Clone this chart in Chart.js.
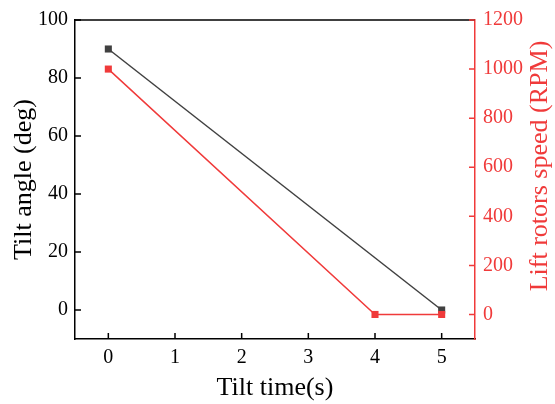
<!DOCTYPE html>
<html>
<head>
<meta charset="utf-8">
<script src="https://cdn.jsdelivr.net/npm/chart.js@4/dist/chart.umd.min.js"></script>
<style>
  html, body { margin: 0; padding: 0; background: #fff; }
  #wrap { width: 555px; height: 404px; }
</style>
</head>
<body>
<div id="wrap"><canvas id="tilt-chart"></canvas></div>
<script>
var tiltTimeAngle = [0, 5];
var tiltAngle = [90, 0];
var tiltTimeSpeed = [0, 4, 5];
var liftSpeed = [1000, 0, 0];
var xTicks = [0, 1, 2, 3, 4, 5];
var angleTicks = [0, 20, 40, 60, 80, 100];
var speedTicks = [0, 200, 400, 600, 800, 1000, 1200];
var rightTitle = "Lift rotors speed (RPM)";

var darkColor = "#404040";
var redColor = "#f03a3a";
var serif = "'Liberation Serif', 'Times New Roman', serif";

function pairs(xs, ys) {
    return xs.map(function (x, i) { return { x: x, y: ys[i] }; });
}

function keepTicks(list) {
    return function (scale) {
        scale.ticks = list.map(function (v) { return { value: v }; });
    };
}

function plain(v) { return String(v); }

// ticks pointing into the plot, the top frame line, and the right title read bottom-up
var frame = {
    id: "frame",
    afterDraw: function (chart) {
        var ctx = chart.ctx;
        var area = chart.chartArea;
        var len = 6;
        ctx.save();
        ctx.lineWidth = 1.5;
        ctx.strokeStyle = "#000";
        ctx.beginPath();
        ctx.moveTo(area.left, area.top);
        ctx.lineTo(area.right, area.top);
        ctx.stroke();
        ["x", "yL", "yR"].forEach(function (id) {
            var s = chart.scales[id];
            ctx.strokeStyle = id === "yR" ? redColor : "#000";
            ctx.beginPath();
            s.ticks.forEach(function (t) {
                var p = s.getPixelForValue(t.value);
                if (id === "x") {
                    ctx.moveTo(p, area.bottom);
                    ctx.lineTo(p, area.bottom - len);
                } else if (id === "yL") {
                    ctx.moveTo(area.left, p);
                    ctx.lineTo(area.left + len, p);
                } else {
                    ctx.moveTo(area.right, p);
                    ctx.lineTo(area.right - len, p);
                }
            });
            ctx.stroke();
        });
        ctx.translate(540, 166);
        ctx.rotate(-Math.PI / 2);
        ctx.fillStyle = redColor;
        ctx.font = "26px " + serif;
        ctx.textAlign = "center";
        ctx.textBaseline = "middle";
        ctx.fillText(rightTitle, 0, 0);
        ctx.restore();
    }
};

new Chart("tilt-chart", {
    type: "line",
    data: {
        datasets: [
            {
                label: "Tilt angle",
                data: pairs(tiltTimeAngle, tiltAngle),
                yAxisID: "yL",
                borderColor: darkColor,
                backgroundColor: darkColor,
                borderWidth: 1.5,
                pointStyle: "rect",
                pointRadius: 5,
                pointBorderWidth: 0,
                order: 2
            },
            {
                label: "Lift rotors speed",
                data: pairs(tiltTimeSpeed, liftSpeed),
                yAxisID: "yR",
                borderColor: redColor,
                backgroundColor: redColor,
                borderWidth: 1.5,
                pointStyle: "rect",
                pointRadius: 5,
                pointBorderWidth: 0,
                order: 1
            }
        ]
    },
    options: {
        responsive: true,
        maintainAspectRatio: false,
        animation: false,
        layout: { padding: { top: 17, left: 0, right: 0, bottom: 0 } },
        plugins: { legend: { display: false }, tooltip: { enabled: false } },
        scales: {
            x: {
                type: "linear",
                min: -0.5,
                max: 5.5,
                afterBuildTicks: keepTicks(xTicks),
                afterFit: function (s) { s.height = 65; },
                grid: { drawOnChartArea: false, drawTicks: false },
                border: { color: "#000", width: 1.5 },
                ticks: { color: "#000", padding: 7, callback: plain, font: { family: serif, size: 20 } },
                title: {
                    display: true,
                    text: "Tilt time(s)",
                    color: "#000",
                    padding: { top: 0, bottom: 0 },
                    font: { family: serif, size: 26 }
                }
            },
            yL: {
                type: "linear",
                position: "left",
                min: -10,
                max: 100,
                afterBuildTicks: keepTicks(angleTicks),
                afterFit: function (s) { s.width = 75; },
                grid: { drawOnChartArea: false, drawTicks: false },
                border: { color: "#000", width: 1.5 },
                ticks: { color: "#000", padding: 7, callback: plain, font: { family: serif, size: 20 } },
                title: {
                    display: true,
                    text: "Tilt angle (deg)",
                    color: "#000",
                    padding: { top: 9, bottom: 0 },
                    font: { family: serif, size: 26 }
                }
            },
            yR: {
                type: "linear",
                position: "right",
                min: -100,
                max: 1200,
                afterBuildTicks: keepTicks(speedTicks),
                afterFit: function (s) { s.width = 80; },
                grid: { drawOnChartArea: false, drawTicks: false },
                border: { color: redColor, width: 1.5 },
                ticks: { color: redColor, padding: 8, callback: plain, font: { family: serif, size: 20 } }
            }
        }
    },
    plugins: [frame]
});
</script>
</body>
</html>
